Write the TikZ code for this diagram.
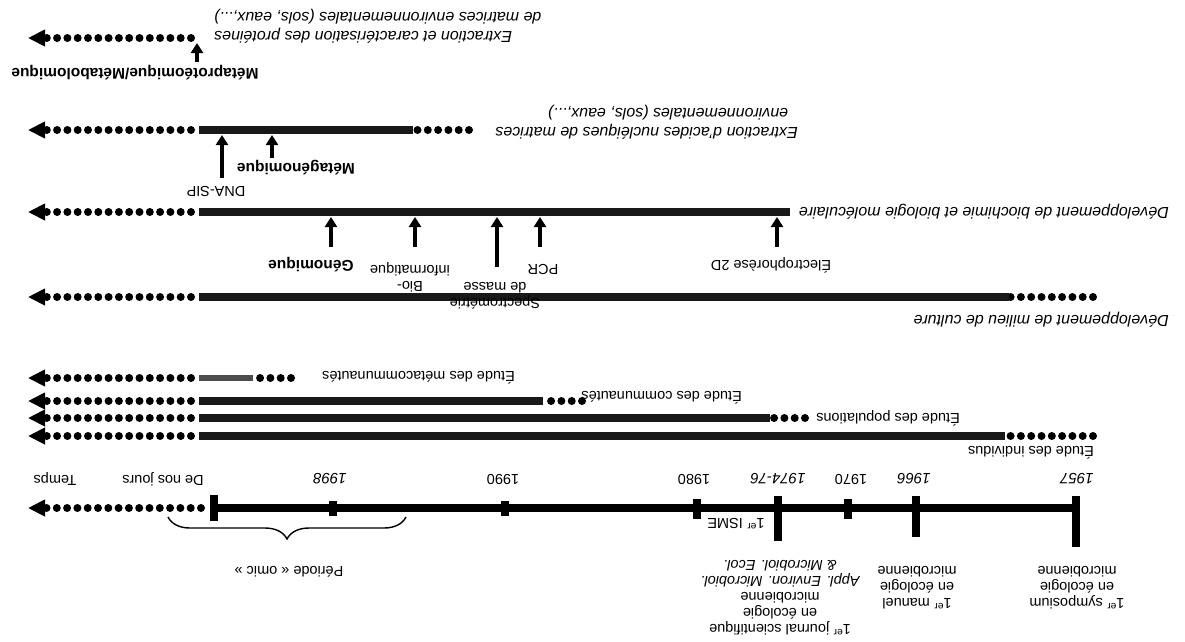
\documentclass[tikz,border=0pt]{standalone}
\usepackage{fontspec}
\setmainfont{Liberation Sans}
\usetikzlibrary{arrows.meta,decorations.pathreplacing,positioning}

\tikzset{
  bar/.style={line width=8.5pt, black!90},
  thinbar/.style={line width=6pt, black!70},
  dots/.style={line width=8pt, line cap=round, dash pattern=on 0pt off 10.3pt},
  endtip/.style={-{Triangle[length=17pt,width=16pt]}, line width=4pt},
  uptip/.style={-{Triangle[length=10pt,width=12pt]}, line width=3.2pt},
  tickbar/.style={line width=8.5pt},
  lab/.style={rotate=180, inner sep=0pt, font=\fontsize{14.5}{16}\selectfont},
  ilab/.style={rotate=180, inner sep=0pt, font=\fontsize{16}{19}\selectfont\itshape},
  blab/.style={rotate=180, inner sep=0pt, font=\fontsize{15.5}{17}\selectfont\bfseries},
}

\begin{document}
\begin{tikzpicture}[x=1pt,y=-1pt]
\useasboundingbox (0,0) rectangle (1185,641);

% left ends: dots and arrow tips
\foreach \n/\y/\d in {meta/38/191,nucl/130/191,bioc/212/191,mil/297/191,meco/378/191,com/401/191,pop/418/191,ind/436/191,tps/508/201}{
  \coordinate (\n-d) at (\d,\y);
  \coordinate (\n-b) at (46,\y);
  \coordinate (\n-t) at (28,\y);
  \draw[dots] (\n-d) -- (\n-b);
  \draw[endtip] (\n-b) -- (\n-t);
}

% bars with a dotted start
\foreach \n/\y/\s/\r in {nucl/130/469/413,mil/297/1093/1009,com/401/582/543,pop/418/805/770,ind/436/1093/1005}{
  \coordinate (\n-s) at (\s,\y);
  \coordinate (\n-r) at (\r,\y);
  \coordinate (\n-l) at (199,\y);
  \draw[dots] (\n-s) -- (\n-r);
  \draw[bar] (\n-r) -- (\n-l);
}
\coordinate (meco-s) at (291,378);
\coordinate (meco-r) at (253,378);
\coordinate (meco-l) at (199,378);
\draw[dots] (meco-s) -- (meco-r);
\draw[thinbar] (meco-r) -- (meco-l);

\coordinate (bioc-r) at (790,212);
\coordinate (bioc-l) at (199,212);
\draw[bar] (bioc-r) -- (bioc-l);

% time axis
\coordinate (tps-r) at (1076,508);
\coordinate (tps-l) at (214,508);
\draw[bar, black] (tps-r) -- (tps-l);
\foreach \x/\a/\b in {1076/496/547,916/496/537,848/499/519,778/496/541,697/499/519,505/501/516,333/501/516,214/495/521}
  \draw[tickbar] (\x,\a) -- (\x,\b);

\node[ilab, font=\fontsize{15}{17}\selectfont\itshape] (y57) at (1077,479) {1957};
\node[ilab, font=\fontsize{15}{17}\selectfont\itshape] (y66) at (914,479) {1966};
\node[lab] (y70) at (851,479) {1970};
\node[ilab, font=\fontsize{15}{17}\selectfont\itshape] (y74) at (778,479) {1974-76};
\node[lab] (y80) at (694,479) {1980};
\node[lab] (y90) at (503,479) {1990};
\node[ilab, font=\fontsize{15}{17}\selectfont\itshape] (y98) at (330,479) {1998};
\node[lab] (now) at (163,479) {De nos jours};
\node[lab] (temps) at (55,479) {Temps};

\coordinate (omic-r) at (406,517);
\coordinate (omic-l) at (168,517);
\draw[line width=1.4pt, decorate, decoration={brace, amplitude=22pt}] (omic-r) -- (omic-l);
\node[lab] (omic) at (289,572) {Période « omic »};

\node[lab, align=center] (sympo) at (1077,588) {1\textsuperscript{er} symposium\\en écologie\\microbienne};
\node[lab, align=center] (manuel) at (917,588) {1\textsuperscript{er} manuel\\en écologie\\microbienne};
\node[lab, align=center] (journal) at (780,598) {1\textsuperscript{er} journal scientifique\\en écologie\\microbienne\\\textit{Appl. Environ. Microbiol.}\\\textit{\& Microbiol. Ecol.}};
\node[lab] (isme) at (736,524) {1\textsuperscript{er} ISME};

% study levels
\node[lab, anchor=west] (ind) at (1094,453) {Étude des individus};
\node[lab, anchor=west] (pop) at (960,418) {Étude des populations};
\node[lab, anchor=west] (com) at (742,398) {Étude des communautés};
\node[lab, anchor=west] (meco) at (515,378) {Étude des métacommunautés};

% culture and molecular tools
\node[ilab, anchor=west] (mil) at (1169,320) {Développement de milieu de culture};
\node[ilab, anchor=west] (bioc) at (1169,212) {Développement de biochimie et biologie moléculaire};

\coordinate (e2d) at (777,247);
\coordinate (pcr) at (540,247);
\coordinate (spec) at (497,267);
\coordinate (binf) at (415,247);
\coordinate (gen) at (331,247);
\foreach \c in {e2d,pcr,spec,binf,gen}
  \draw[uptip] (\c) -- (\c |- 0,217);
\node[lab] (e2d-l) at (771,265) {Électrophorèse 2D};
\node[lab] (pcr-l) at (543,269) {PCR};
\node[lab, align=center] (spec-l) at (495,296) {Spectrométrie\\de masse};
\node[lab, align=center] (binf-l) at (410,277) {Bio-\\informatique};
\node[blab] (gen-l) at (311,265) {Génomique};

% environmental DNA
\node[ilab, anchor=west, align=left] (nucl) at (798,122) {Extraction d'acides nucléiques de matrices\\\hspace*{0.6em}environnementales (sols, eaux,...)};
\coordinate (sip) at (222,178);
\coordinate (mgen) at (272,158);
\draw[uptip] (sip) -- (sip |- 0,135);
\draw[uptip] (mgen) -- (mgen |- 0,135);
\node[lab] (sip-l) at (216,191) {DNA-SIP};
\node[blab] (mgen-l) at (296,168) {Métagénomique};

% proteins and metabolites
\node[ilab, anchor=east, align=right] (prot) at (214,26) {Extraction et caractérisation des protéines\\de matrices environnementales (sols, eaux,...)};
\coordinate (mprot) at (197,62);
\draw[uptip] (mprot) -- (mprot |- 0,43);
\node[blab] (mprot-l) at (135,73) {Métaprotéomique/Métabolomique};

\end{tikzpicture}
\end{document}
